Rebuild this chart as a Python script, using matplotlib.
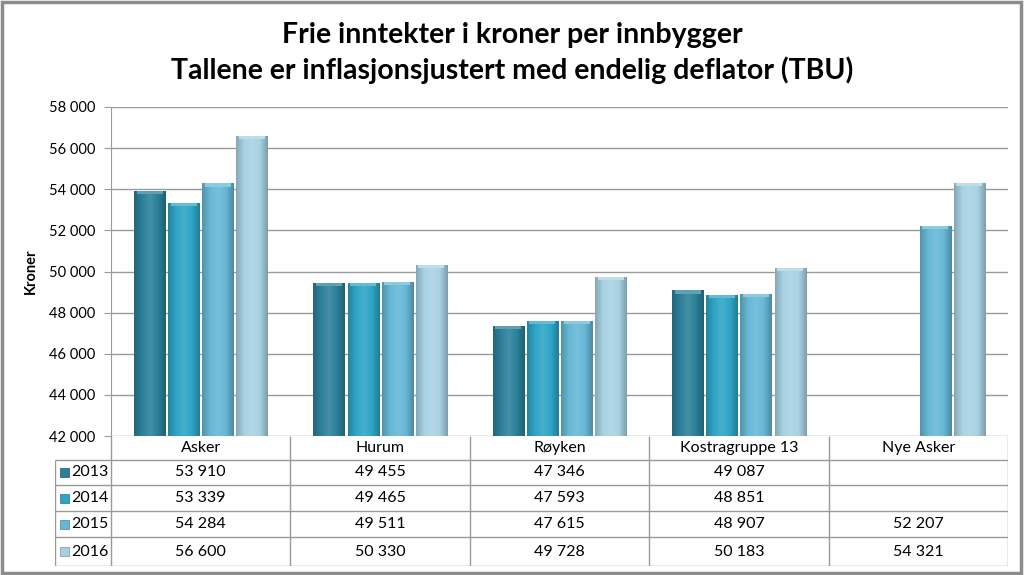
#!/usr/bin/env python3
"""Frie inntekter per innbygger, bar chart with data table below."""

import numpy as np
import matplotlib
matplotlib.use("Agg")
import matplotlib.pyplot as plt
from matplotlib.colors import LinearSegmentedColormap, to_rgb
from matplotlib.patches import Rectangle

categories = ["Asker", "Hurum", "Røyken", "Kostragruppe 13", "Nye Asker"]
years = ["2013", "2014", "2015", "2016"]
v2013 = [53910, 49455, 47346, 49087, None]
v2014 = [53339, 49465, 47593, 48851, None]
v2015 = [54284, 49511, 47615, 48907, 52207]
v2016 = [56600, 50330, 49728, 50183, 54321]
series = [v2013, v2014, v2015, v2016]
colors = ["#2b8099", "#2ea5c6", "#66b8d6", "#a8d2e3"]

ymin, ymax, ystep = 42000, 58000, 2000

plt.rcParams["font.family"] = ["Lato", "DejaVu Sans"]

W, H = 1024, 575
fig = plt.figure(figsize=(W / 100, H / 100), dpi=100)


def px_axes(left, top, right, bottom):
    return fig.add_axes([left / W, 1 - bottom / H, (right - left) / W, (bottom - top) / H])


def fmt(v):
    return "" if v is None else f"{v:,}".replace(",", " ")


def shade(color, f):
    r, g, b = to_rgb(color)
    if f < 0:
        return (r * (1 + f), g * (1 + f), b * (1 + f))
    return (r + (1 - r) * f, g + (1 - g) * f, b + (1 - b) * f)


# outer frame
fig.patches.append(Rectangle((0.002, 0.003), 0.995, 0.994, transform=fig.transFigure,
                             fill=False, edgecolor="#8c8c8c", linewidth=2.5))

fig.text(0.5, 1 - 35 / H, "Frie inntekter i kroner per innbygger", ha="center", va="center",
         fontsize=20.5, fontweight="bold")
fig.text(0.5, 1 - 70 / H, "Tallene er inflasjonsjustert med endelig deflator (TBU)", ha="center",
         va="center", fontsize=20.5, fontweight="bold")

# main chart
ax = px_axes(111, 107, 1008, 436)
x = np.arange(len(categories))
ax.set_xlim(-0.5, len(categories) - 0.5)
ax.set_ylim(ymin, ymax)
ax.set_yticks(np.arange(ymin, ymax + 1, ystep))
ax.set_yticklabels([fmt(t) for t in range(ymin, ymax + 1, ystep)], fontsize=10.5)
ax.set_xticks([])
ax.grid(axis="y", color="#9a9a9a", linewidth=1)
ax.set_axisbelow(True)
for side in ["top", "right", "bottom"]:
    ax.spines[side].set_visible(False)
ax.spines["left"].set_color("#9a9a9a")
ax.tick_params(axis="y", length=5, color="#9a9a9a", pad=6)
ax.set_ylabel("Kroner", fontsize=10.5, fontweight="bold", labelpad=8)

bar_w, step = 0.173, 0.19
for i, (vals, col) in enumerate(zip(series, colors)):
    xs = [xi + (i - 1.5) * step for xi, v in zip(x, vals) if v is not None]
    hs = [v - ymin for v in vals if v is not None]
    bars = ax.bar(xs, hs, bar_w, bottom=ymin, color=col, edgecolor=shade(col, -0.35),
                  linewidth=0.6, zorder=2)
    cmap = LinearSegmentedColormap.from_list(
        "g", [shade(col, -0.2), col, shade(col, 0.12), col, shade(col, -0.25)])
    for b in bars:
        x0, y0 = b.get_x(), b.get_y()
        im = ax.imshow(np.linspace(0, 1, 64)[None, :], cmap=cmap, aspect="auto",
                       extent=(x0, x0 + b.get_width(), y0, y0 + b.get_height()), zorder=2.5)
        im.set_clip_path(b)
        cap = (ymax - ymin) * 0.01
        ax.add_patch(Rectangle((x0 + b.get_width() * 0.08, y0 + b.get_height() - cap),
                               b.get_width() * 0.84, cap,
                               color=shade(col, 0.25), zorder=3, linewidth=0))
ax.set_xlim(-0.5, len(categories) - 0.5)
ax.set_ylim(ymin, ymax)

# data table
tab = px_axes(55, 436, 1008, 566)
lab_w = 56 / ((1008 - 111) / len(categories))
tab.set_xlim(-0.5 - lab_w, len(categories) - 0.5)
row_h = [24, 25, 26, 26, 29]
edges = np.concatenate([[0], np.cumsum(row_h)])
tab.set_ylim(edges[-1], 0)
tab.axis("off")
lc = "#9a9a9a"
# header row
tab.hlines(edges[1], -0.5 - lab_w, len(categories) - 0.5, color=lc, lw=1)
for j in range(len(categories) + 1):
    tab.vlines(j - 0.5, 0, edges[-1], color=lc, lw=1)
for j, c in enumerate(categories):
    tab.text(j, (edges[0] + edges[1]) / 2, c, ha="center", va="center", fontsize=11.5)
tab.vlines(-0.5 - lab_w, edges[1], edges[-1], color=lc, lw=1)
for r in range(2, len(edges)):
    tab.hlines(edges[r], -0.5 - lab_w, len(categories) - 0.5, color=lc, lw=1)
for i, (yr, vals, col) in enumerate(zip(years, series, colors)):
    yc = (edges[i + 1] + edges[i + 2]) / 2
    tab.add_patch(Rectangle((-0.5 - lab_w + 0.03, yc - 4.5), 0.05, 9, facecolor=col,
                            edgecolor=shade(col, -0.3), linewidth=0.5))
    tab.text(-0.5 - 0.015, yc, yr, ha="right", va="center", fontsize=11.5)
    for j, v in enumerate(vals):
        tab.text(j, yc, fmt(v), ha="center", va="center", fontsize=11.5)

fig.savefig("out.png", dpi=100)
